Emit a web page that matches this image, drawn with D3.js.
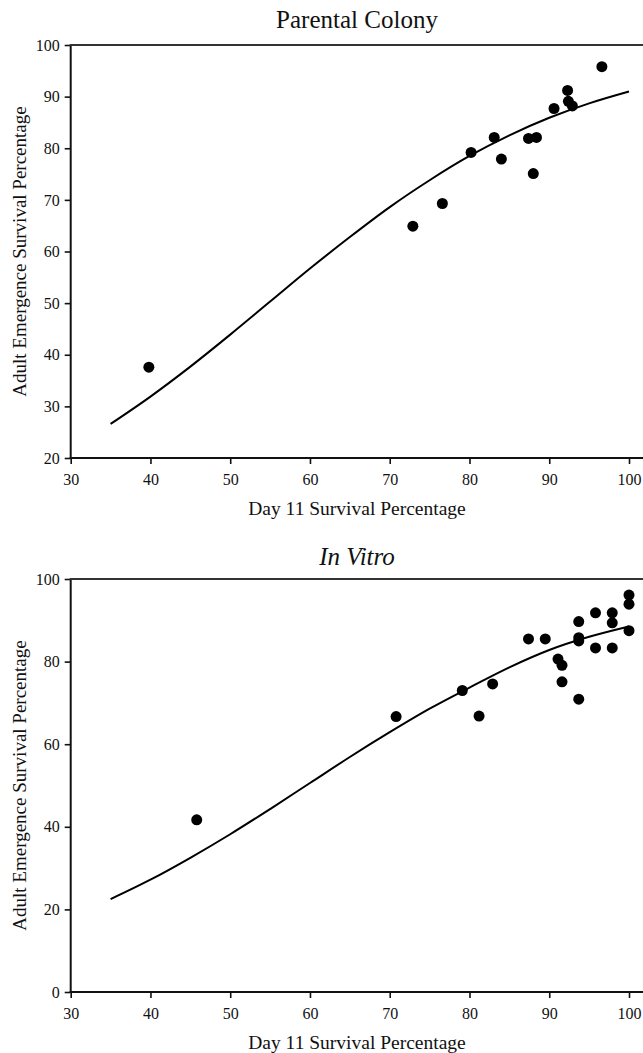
<!DOCTYPE html>
<html>
<head>
<meta charset="utf-8">
<script src="https://cdn.jsdelivr.net/npm/d3@7"></script>
<style>
  html, body { margin: 0; padding: 0; background: #fff; }
  svg { display: block; }
  text { font-family: "Liberation Serif", "Times New Roman", serif; fill: #111; }
</style>
</head>
<body>
<svg id="chart" width="643" height="1053"></svg>
<script>
// ---------- data ----------
const xTicks = [30, 40, 50, 60, 70, 80, 90, 100];

// Parental Colony
const parentalDay11 = [39.8, 72.9, 76.6, 80.2, 83.1, 84.0, 87.4, 88.4, 88.0, 90.6, 92.3, 92.4, 92.9, 96.6];
const parentalAdult = [37.6, 64.9, 69.3, 79.2, 82.1, 77.9, 81.9, 82.1, 75.1, 87.7, 91.2, 89.1, 88.2, 95.8];
const parentalFitX  = [35, 40, 45, 50, 55, 60, 65, 70, 75, 80, 85, 90, 95, 100];
const parentalFitY  = [26.6, 31.9, 37.7, 43.9, 50.3, 56.7, 62.8, 68.6, 73.8, 78.5, 82.5, 85.9, 88.7, 91.0];
const parentalYTicks = [20, 30, 40, 50, 60, 70, 80, 90, 100];

// In Vitro
const vitroDay11 = [45.8, 70.8, 79.1, 81.2, 82.9, 87.4, 89.5, 91.1, 91.6, 91.6, 93.7, 93.7, 93.7, 93.7, 95.8, 95.8, 97.9, 97.9, 97.9, 100, 100, 100];
const vitroAdult = [41.7, 66.7, 73.0, 66.8, 74.6, 85.5, 85.5, 80.6, 79.1, 75.1, 89.7, 85.0, 85.8, 70.9, 91.8, 83.3, 91.8, 89.4, 83.3, 96.1, 93.9, 87.5];
const vitroFitX = [35, 40, 45, 50, 55, 60, 65, 70, 75, 80, 85, 90, 95, 100];
const vitroFitY = [22.5, 27.2, 32.5, 38.2, 44.3, 50.6, 56.9, 62.9, 68.6, 73.7, 78.6, 82.8, 86.0, 88.5];
const vitroYTicks = [0, 20, 40, 60, 80, 100];

const yTitle = "Adult Emergence Survival Percentage";
const xTitle = "Day 11 Survival Percentage";

// ---------- drawing ----------
const svg = d3.select("#chart");
const X0 = 70.7, X1 = 629, XEND = 643;

function panel(opts) {
  const g = svg.append("g");
  const x = d3.scaleLinear().domain([30, 100]).range([X0, X1]);
  const y = d3.scaleLinear().domain(opts.yDomain).range([opts.bottom, opts.top]);

  // title
  g.append("text")
    .attr("x", 357).attr("y", opts.titleY)
    .attr("text-anchor", "middle")
    .style("font-size", "25px")
    .style("font-style", opts.italic ? "italic" : "normal")
    .text(opts.title);

  // axes
  const xAxis = d3.axisBottom(x).tickValues(xTicks).tickSize(6).tickPadding(10).tickFormat(d3.format("d"));
  const gx = g.append("g").attr("transform", `translate(0,${opts.bottom})`).call(xAxis);
  const yAxis = d3.axisLeft(y).tickValues(opts.yTicks).tickSize(6).tickPadding(5).tickFormat(d3.format("d"));
  const gy = g.append("g").attr("transform", `translate(${X0},0)`).call(yAxis);
  [gx, gy].forEach(a => {
    a.select(".domain").remove();
    a.selectAll("line").attr("stroke", "#111").attr("stroke-width", 1.6);
    a.selectAll("text").style("font-size", "16px").style("font-family", '"Liberation Serif", serif').attr("fill", "#111");
  });

  // frame lines: left, bottom, top
  g.append("line").attr("x1", X0).attr("x2", X0).attr("y1", opts.top).attr("y2", opts.bottom)
    .attr("stroke", "#111").attr("stroke-width", 2);
  g.append("line").attr("x1", X0 - 1).attr("x2", XEND).attr("y1", opts.bottom).attr("y2", opts.bottom)
    .attr("stroke", "#111").attr("stroke-width", 2);
  g.append("line").attr("x1", X0 - 1).attr("x2", XEND).attr("y1", opts.top).attr("y2", opts.top)
    .attr("stroke", "#333").attr("stroke-width", 2);

  // axis titles
  g.append("text")
    .attr("x", 357).attr("y", opts.bottom + 57)
    .attr("text-anchor", "middle").style("font-size", "19.5px")
    .text(xTitle);
  g.append("text")
    .attr("transform", `translate(26,${(opts.top + opts.bottom) / 2}) rotate(-90)`)
    .attr("text-anchor", "middle").style("font-size", "19px")
    .text(yTitle);

  // fitted curve
  const line = d3.line().x(d => x(d[0])).y(d => y(d[1])).curve(d3.curveMonotoneX);
  g.append("path")
    .datum(d3.zip(opts.fitX, opts.fitY))
    .attr("d", line)
    .attr("fill", "none").attr("stroke", "#000").attr("stroke-width", 2);

  // points
  g.selectAll("circle.pt")
    .data(d3.zip(opts.px, opts.py))
    .join("circle")
    .attr("class", "pt")
    .attr("cx", d => x(d[0])).attr("cy", d => y(d[1]))
    .attr("r", 5.5).attr("fill", "#000");
}

panel({
  title: "Parental Colony", italic: false, titleY: 28,
  top: 45, bottom: 458, yDomain: [20, 100], yTicks: parentalYTicks,
  px: parentalDay11, py: parentalAdult, fitX: parentalFitX, fitY: parentalFitY
});

panel({
  title: "In Vitro", italic: true, titleY: 565,
  top: 579, bottom: 992, yDomain: [0, 100], yTicks: vitroYTicks,
  px: vitroDay11, py: vitroAdult, fitX: vitroFitX, fitY: vitroFitY
});
</script>
</body>
</html>
